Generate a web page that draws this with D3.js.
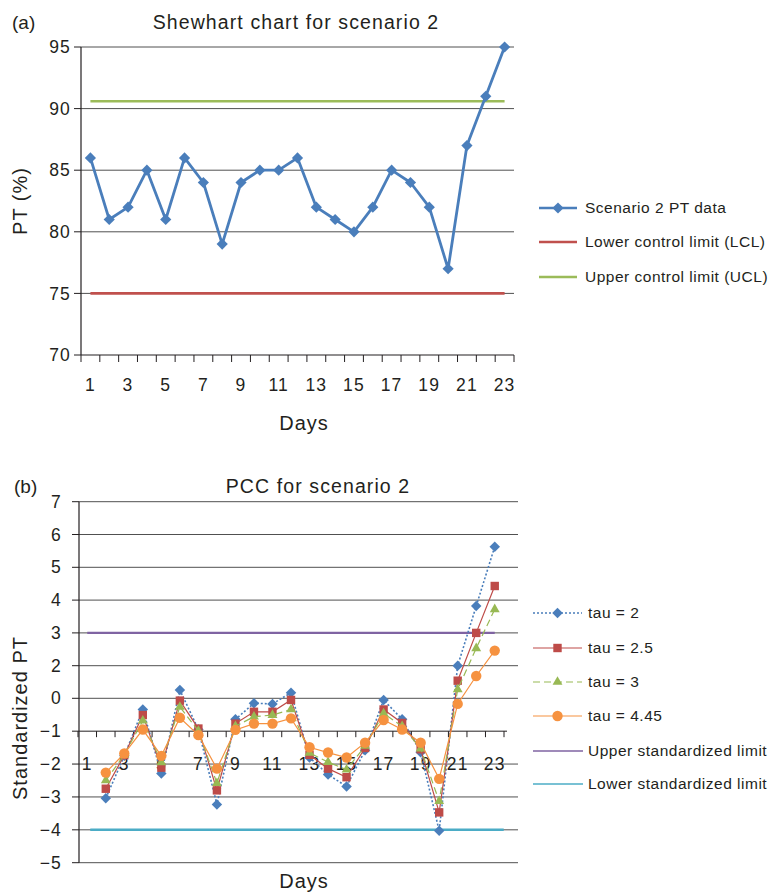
<!DOCTYPE html>
<html>
<head>
<meta charset="utf-8">
<script src="https://cdn.jsdelivr.net/npm/d3@7"></script>
<style>
  body { margin: 0; background: #fff; }
  svg text { font-family: "Liberation Sans", Arial, sans-serif; fill: #231f20; }
</style>
</head>
<body>
<div id="chart"></div>
<script>
// ---- data ----
var days = [1,2,3,4,5,6,7,8,9,10,11,12,13,14,15,16,17,18,19,20,21,22,23];
var dayLabels = [1,3,5,7,9,11,13,15,17,19,21,23];

// panel (a): Shewhart chart
var ptData = [86,81,82,85,81,86,84,79,84,85,85,86,82,81,80,82,85,84,82,77,87,91,95];
var lcl = 75;
var ucl = 90.6;
var ptTicks = [70,75,80,85,90,95];

// panel (b): PCC (first day has no value)
var pccDays = [2,3,4,5,6,7,8,9,10,11,12,13,14,15,16,17,18,19,20,21,22,23];
var tau2   = [-3.04,-1.75,-0.34,-2.29,0.51,-0.95,-3.23,-0.64,-0.15,-0.17,0.34,-1.8,-2.32,-2.68,-1.58,-0.05,-0.64,-1.64,-4.03,2.0,3.82,5.63];
var tau25  = [-2.75,-1.73,-0.51,-2.11,-0.07,-0.92,-2.8,-0.77,-0.41,-0.41,-0.05,-1.72,-2.14,-2.4,-1.51,-0.34,-0.75,-1.55,-3.47,1.08,3.0,4.43];
var tau3   = [-2.5,-1.72,-0.68,-1.95,-0.26,-0.99,-2.58,-0.85,-0.56,-0.51,-0.34,-1.66,-1.94,-2.17,-1.45,-0.46,-0.85,-1.53,-3.13,0.55,2.53,3.72];
var tau445 = [-2.26,-1.68,-0.95,-1.75,-0.59,-1.12,-2.14,-0.96,-0.77,-0.77,-0.61,-1.49,-1.65,-1.8,-1.35,-0.66,-0.95,-1.35,-2.45,-0.17,1.37,2.46];
var upperStd = 3;
var lowerStd = -4;
// tick labels as printed (the figure has no "1")
var stdTicks = [7,6,5,4,3,2,0,-1,-2,-3,-4,-5];

var W = 768, H = 892;
var svg = d3.select("#chart").append("svg").attr("width", W).attr("height", H);

function fmt(v){ return v < 0 ? "\u2212" + Math.abs(v) : String(v); }

var tickFont = 17.5, tickLs = 1.2;

// ================= panel (a) =================
var xa = d3.scaleBand().domain(days).range([81, 514]);
var ya = d3.scaleLinear().domain([70, 95]).range([355, 47]);
var ga = svg.append("g");

ga.append("text").attr("x", 12).attr("y", 29).attr("font-size", 19).text("(a)");
ga.append("text").attr("x", 296).attr("y", 29).attr("text-anchor", "middle")
  .attr("font-size", 19.5).attr("letter-spacing", 1.1).text("Shewhart chart for scenario 2");

// gridlines
ga.selectAll(".grid").data(ptTicks.filter(function(d){ return d > 70; })).enter()
  .append("line")
  .attr("x1", 81).attr("x2", 514)
  .attr("y1", function(d){ return ya(d); }).attr("y2", function(d){ return ya(d); })
  .attr("stroke", "#505050").attr("stroke-width", 1);

// y axis
ga.append("line").attr("x1", 81).attr("x2", 81).attr("y1", ya(95)).attr("y2", ya(70))
  .attr("stroke", "#231f20").attr("stroke-width", 1.2);
ptTicks.forEach(function(t){
  ga.append("line").attr("x1", 74).attr("x2", 81).attr("y1", ya(t)).attr("y2", ya(t))
    .attr("stroke", "#231f20");
  ga.append("text").attr("x", 71).attr("y", ya(t)).attr("dy", "0.35em")
    .attr("text-anchor", "end").attr("font-size", tickFont).attr("letter-spacing", tickLs).text(t);
});
// x axis
ga.append("line").attr("x1", 81).attr("x2", 514).attr("y1", ya(70)).attr("y2", ya(70))
  .attr("stroke", "#231f20").attr("stroke-width", 1.2);
days.concat([24]).forEach(function(d){
  var x = d <= 23 ? xa(d) : xa(23) + xa.bandwidth();
  ga.append("line").attr("x1", x).attr("x2", x).attr("y1", ya(70)).attr("y2", ya(70) + 7)
    .attr("stroke", "#231f20");
});
dayLabels.forEach(function(d){
  ga.append("text").attr("x", xa(d) + xa.bandwidth()/2).attr("y", 385).attr("dy", "0.35em")
    .attr("text-anchor", "middle").attr("font-size", tickFont).attr("letter-spacing", tickLs).text(d);
});
ga.append("text").attr("x", 304).attr("y", 423).attr("dy", "0.35em").attr("text-anchor", "middle")
  .attr("font-size", 20).attr("letter-spacing", 1).text("Days");
ga.append("text").attr("transform", "translate(27," + ya(82.5) + ") rotate(-90)")
  .attr("text-anchor", "middle").attr("font-size", 20).attr("letter-spacing", 1).text("PT (%)");

// limits
var cxa = function(d){ return xa(d) + xa.bandwidth()/2; };
ga.append("line").attr("x1", cxa(1)).attr("x2", cxa(23)).attr("y1", ya(lcl)).attr("y2", ya(lcl))
  .attr("stroke", "#c0504d").attr("stroke-width", 2.6);
ga.append("line").attr("x1", cxa(1)).attr("x2", cxa(23)).attr("y1", ya(ucl)).attr("y2", ya(ucl))
  .attr("stroke", "#9bbb59").attr("stroke-width", 2.6);

var lineA = d3.line().x(function(d, i){ return cxa(days[i]); }).y(function(d){ return ya(d); });
ga.append("path").datum(ptData).attr("d", lineA).attr("fill", "none")
  .attr("stroke", "#4a7ebb").attr("stroke-width", 2.8).attr("stroke-linejoin", "round");
var diamondA = d3.symbol().type(d3.symbolDiamond2).size(80);
ga.selectAll(".pt").data(ptData).enter().append("path")
  .attr("d", diamondA)
  .attr("transform", function(d, i){ return "translate(" + cxa(days[i]) + "," + ya(d) + ")"; })
  .attr("fill", "#4a7ebb");

// legend (a)
var legA = [
  {label: "Scenario 2 PT data", color: "#4a7ebb", marker: true},
  {label: "Lower control limit (LCL)", color: "#c0504d"},
  {label: "Upper control limit (UCL)", color: "#9bbb59"}
];
var legAy = [208, 242, 277];
legA.forEach(function(l, i){
  var y = legAy[i];
  ga.append("line").attr("x1", 539).attr("x2", 577).attr("y1", y).attr("y2", y)
    .attr("stroke", l.color).attr("stroke-width", 2.6);
  if (l.marker) ga.append("path").attr("d", diamondA).attr("transform", "translate(558," + y + ")").attr("fill", l.color);
  ga.append("text").attr("x", 585).attr("y", y).attr("dy", "0.35em").attr("font-size", 15.5)
    .attr("letter-spacing", 0.5).text(l.label);
});

// ================= panel (b) =================
var xb = d3.scaleBand().domain(days).range([78, 504]);
// piecewise scale so the printed labels fall on the drawn gridlines
var yb = d3.scaleLinear().domain([-5, 0, 2, 7]).range([862.7, 698.3, 665.7, 501.7]);
var gb = svg.append("g");
var cxb = function(d){ return xb(d) + xb.bandwidth()/2; };

gb.append("text").attr("x", 14).attr("y", 493).attr("font-size", 19).text("(b)");
gb.append("text").attr("x", 318).attr("y", 493).attr("text-anchor", "middle")
  .attr("font-size", 19.5).attr("letter-spacing", 1.1).text("PCC for scenario 2");

stdTicks.forEach(function(t){
  gb.append("line").attr("x1", 79).attr("x2", t === -1 ? 507 : 518)
    .attr("y1", yb(t)).attr("y2", yb(t))
    .attr("stroke", t === -1 ? "#231f20" : "#505050").attr("stroke-width", 1);
  gb.append("line").attr("x1", 72).attr("x2", 79).attr("y1", yb(t)).attr("y2", yb(t))
    .attr("stroke", "#231f20");
  gb.append("text").attr("x", 62).attr("y", yb(t)).attr("dy", "0.35em")
    .attr("text-anchor", "end").attr("font-size", tickFont).attr("letter-spacing", tickLs).text(fmt(t));
});
gb.append("line").attr("x1", 79).attr("x2", 79).attr("y1", yb(7)).attr("y2", yb(-5))
  .attr("stroke", "#231f20").attr("stroke-width", 1.2);

// category axis crosses at -1
days.concat([24]).forEach(function(d){
  var x = d <= 23 ? xb(d) : xb(23) + xb.bandwidth();
  gb.append("line").attr("x1", x).attr("x2", x).attr("y1", yb(-1)).attr("y2", yb(-1) + 6)
    .attr("stroke", "#231f20");
});
dayLabels.forEach(function(d){
  gb.append("text").attr("x", cxb(d)).attr("y", yb(-2)).attr("dy", "0.35em")
    .attr("text-anchor", "middle").attr("font-size", tickFont).attr("letter-spacing", tickLs).text(d);
});
gb.append("text").attr("x", 304).attr("y", 881).attr("dy", "0.35em").attr("text-anchor", "middle")
  .attr("font-size", 20).attr("letter-spacing", 1).text("Days");
gb.append("text").attr("transform", "translate(27," + yb(-0.6) + ") rotate(-90)")
  .attr("text-anchor", "middle").attr("font-size", 20).attr("letter-spacing", 1).text("Standardized PT");

// limits
gb.append("line").attr("x1", cxb(1)).attr("x2", cxb(23)).attr("y1", yb(upperStd)).attr("y2", yb(upperStd))
  .attr("stroke", "#7f63a2").attr("stroke-width", 2.2);
gb.append("line").attr("x1", cxb(1) + 3).attr("x2", cxb(23) + 9).attr("y1", yb(lowerStd)).attr("y2", yb(lowerStd))
  .attr("stroke", "#4bacc6").attr("stroke-width", 2.4);

var series = [
  {name: "tau = 2",    values: tau2,   color: "#4a7ebb", dash: "2,2", width: 1.6, sym: d3.symbolDiamond2, size: 70},
  {name: "tau = 2.5",  values: tau25,  color: "#be4b48", dash: null,  width: 1.2, sym: d3.symbolSquare2,  size: 90},
  {name: "tau = 3",    values: tau3,   color: "#98b954", dash: "7,4", width: 1.2, sym: d3.symbolTriangle2, size: 70},
  {name: "tau = 4.45", values: tau445, color: "#f69240", dash: null,  width: 1.2, sym: d3.symbolCircle,   size: 85}
];
var lineB = d3.line().x(function(d, i){ return cxb(pccDays[i]); }).y(function(d){ return yb(d); });

series.forEach(function(s){
  gb.append("path").datum(s.values).attr("d", lineB).attr("fill", "none")
    .attr("stroke", s.color).attr("stroke-width", s.width)
    .attr("stroke-dasharray", s.dash);
  gb.selectAll(null).data(s.values).enter().append("path")
    .attr("d", d3.symbol().type(s.sym).size(s.size))
    .attr("transform", function(d, i){ return "translate(" + cxb(pccDays[i]) + "," + yb(d) + ")"; })
    .attr("fill", s.color);
});

// legend (b)
var legBy = [613, 648, 682, 716, 751, 784];
series.forEach(function(s, i){
  var y = legBy[i];
  gb.append("line").attr("x1", 533).attr("x2", 582).attr("y1", y).attr("y2", y)
    .attr("stroke", s.color).attr("stroke-width", s.width).attr("stroke-dasharray", s.dash);
  gb.append("path").attr("d", d3.symbol().type(s.sym).size(s.size))
    .attr("transform", "translate(557.5," + y + ")").attr("fill", s.color);
  gb.append("text").attr("x", 588).attr("y", y).attr("dy", "0.35em").attr("font-size", 15.5)
    .attr("letter-spacing", 0.5).text(s.name);
});
[{name: "Upper standardized limit", color: "#7f63a2"}, {name: "Lower standardized limit", color: "#4bacc6"}]
  .forEach(function(l, i){
    var y = legBy[4 + i];
    gb.append("line").attr("x1", 533).attr("x2", 583).attr("y1", y).attr("y2", y)
      .attr("stroke", l.color).attr("stroke-width", 1.4);
    gb.append("text").attr("x", 588).attr("y", y).attr("dy", "0.35em").attr("font-size", 15.5)
      .attr("letter-spacing", 0.5).text(l.name);
  });
</script>
</body>
</html>
